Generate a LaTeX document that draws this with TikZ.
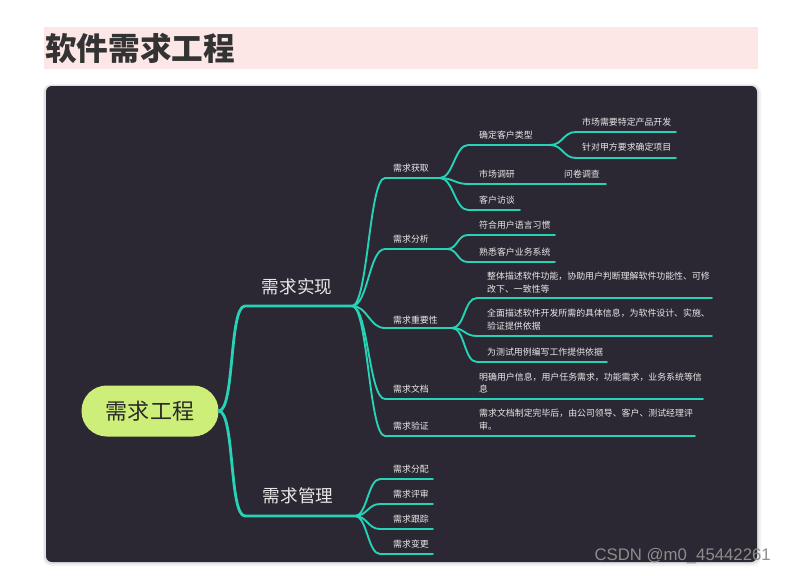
\documentclass[tikz,border=0pt]{standalone}
\usepackage{fontspec}
\newfontfamily\cjk{Noto Sans CJK SC}
\newfontfamily\wmfont{Liberation Sans}
\definecolor{titlebg}{HTML}{FDE7E6}
\definecolor{titletext}{HTML}{333333}
\definecolor{panelbg}{HTML}{2C2833}
\definecolor{mmline}{HTML}{27D3B7}
\definecolor{mmtext}{HTML}{E8E8E8}
\definecolor{rootbg}{HTML}{CDEF79}
\definecolor{roottext}{HTML}{2A2A2A}

\begin{document}
\begin{tikzpicture}
[
	x=0.03cm,y=-0.03cm,
	branch/.style={draw=mmline,line width=1.6pt,line cap=round},
	trunk/.style={draw=mmline,line width=2.4pt,line cap=round},
	mmcurve/.style={to path={.. controls +(#1,0) and +(-#1,0) .. (\tikztotarget)}},
	mmcurve/.default=15,
	topic/.style={anchor=west,inner sep=0pt,text=mmtext,align=left,
		font=\cjk\fontsize{7.6}{11}\selectfont},
	bigtopic/.style={inner sep=0pt,text=mmtext,font=\cjk\fontsize{15}{18}\selectfont}
]

	\useasboundingbox (0,0) rectangle (785,575);

	% title
	\fill[titlebg] (44,27) rectangle (758,69);
	\node[anchor=west,inner sep=0pt,text=titletext,
		font=\cjk\bfseries\fontsize{27}{30}\selectfont] (title) at (45,48) {软件需求工程};

	% panel with soft shadow
	\fill[black,opacity=0.05,rounded corners=7] (43,84) rectangle (761,566);
	\fill[black,opacity=0.07,rounded corners=6] (44,85) rectangle (759,564);
	\fill[panelbg,rounded corners=5] (46,86) rectangle (757,562);

	% root
	\node[fill=rootbg,rounded corners=0.76cm,minimum width=4.11cm,minimum height=1.53cm,
		inner sep=0pt,text=roottext,font=\cjk\fontsize{18.8}{22}\selectfont] (root) at (150,411) {需求工程};

	% level 1
	\coordinate (impl-s) at (245,306);
	\coordinate (impl-e) at (352,306);
	\coordinate (mgmt-s) at (245,516);
	\coordinate (mgmt-e) at (355,516);
	\node[bigtopic] (impl) at (297,287) {需求实现};
	\node[bigtopic] (mgmt) at (298,496) {需求管理};
	\draw[trunk] (root.east) to[mmcurve=16] (impl-s) -- (impl-e);
	\draw[trunk] (root.east) to[mmcurve=16] (mgmt-s) -- (mgmt-e);

	% level 2: 需求实现
	\coordinate (acq-s) at (385,178);  \coordinate (acq-e) at (440,178);
	\coordinate (ana-s) at (385,249);  \coordinate (ana-e) at (447,249);
	\coordinate (imp-s) at (385,328);  \coordinate (imp-e) at (452,328);
	\coordinate (doc-s) at (385,399);  \coordinate (doc-e) at (470,399);
	\coordinate (ver-s) at (385,436);  \coordinate (ver-e) at (470,436);
	\node[topic] (acq) at (393,168) {需求获取};
	\node[topic] (ana) at (393,239) {需求分析};
	\node[topic] (imp) at (393,320) {需求重要性};
	\node[topic] (doc) at (393,389) {需求文档};
	\node[topic] (ver) at (393,426) {需求验证};
	\foreach \k in {acq,ana,imp,doc,ver}
		\draw[branch] (impl-e) to[mmcurve=16] (\k-s) -- (\k-e);

	% level 2: 需求管理
	\coordinate (asg-s) at (380,479);  \coordinate (asg-e) at (433,479);
	\coordinate (rev-s) at (380,504);  \coordinate (rev-e) at (433,504);
	\coordinate (trk-s) at (380,529);  \coordinate (trk-e) at (433,529);
	\coordinate (chg-s) at (380,554);  \coordinate (chg-e) at (433,554);
	\node[topic] (asg) at (393,469) {需求分配};
	\node[topic] (rev) at (393,494) {需求评审};
	\node[topic] (trk) at (393,519) {需求跟踪};
	\node[topic] (chg) at (393,544) {需求变更};
	\foreach \k in {asg,rev,trk,chg}
		\draw[branch] (mgmt-e) to[mmcurve=12] (\k-s) -- (\k-e);

	% level 3: 需求获取
	\coordinate (type-s) at (468,145);  \coordinate (type-e) at (550,145);
	\coordinate (mkt-s) at (468,184);   \coordinate (mkt-e) at (545,184);
	\coordinate (intv-s) at (468,210);  \coordinate (intv-e) at (520,210);
	\node[topic] (type) at (479,135) {确定客户类型};
	\node[topic] (mkt) at (479,174) {市场调研};
	\node[topic] (intv) at (479,200) {客户访谈};
	\foreach \k in {type,mkt,intv}
		\draw[branch] (acq-e) to[mmcurve=13] (\k-s) -- (\k-e);

	\coordinate (quest-e) at (606,184);
	\node[topic] (quest) at (564,174) {问卷调查};
	\draw[branch] (mkt-e) -- (quest-e);

	\coordinate (prod-s) at (576,132);  \coordinate (prod-e) at (676,132);
	\coordinate (proj-s) at (576,158);  \coordinate (proj-e) at (676,158);
	\node[topic] (prod) at (582,122) {市场需要特定产品开发};
	\node[topic] (proj) at (582,147) {针对甲方要求确定项目};
	\foreach \k in {prod,proj}
		\draw[branch] (type-e) to[mmcurve=13] (\k-s) -- (\k-e);

	% level 3: 需求分析
	\coordinate (lang-s) at (468,235);  \coordinate (lang-e) at (555,235);
	\coordinate (biz-s) at (468,262);   \coordinate (biz-e) at (555,262);
	\node[topic] (lang) at (479,225) {符合用户语言习惯};
	\node[topic] (biz) at (479,252) {熟悉客户业务系统};
	\foreach \k in {lang,biz}
		\draw[branch] (ana-e) to[mmcurve=11] (\k-s) -- (\k-e);

	% level 3: 需求重要性
	\coordinate (whole-s) at (477,298);  \coordinate (whole-e) at (712,298);
	\coordinate (full-s) at (477,336);   \coordinate (full-e) at (712,336);
	\coordinate (test-s) at (477,362);   \coordinate (test-e) at (607,362);
	\node[topic] (whole) at (487,282.5) {整体描述软件功能，协助用户判断理解软件功能性、可修\\改下、一致性等};
	\node[topic] (full) at (487,319.5) {全面描述软件开发所需的具体信息，为软件设计、实施、\\验证提供依据};
	\node[topic] (test) at (487,352) {为测试用例编写工作提供依据};
	\foreach \k in {whole,full,test}
		\draw[branch] (imp-e) to[mmcurve=13] (\k-s) -- (\k-e);

	% level 3: 需求文档, 需求验证
	\coordinate (info-e) at (703,399);
	\coordinate (appr-e) at (695,436);
	\node[topic] (info) at (479,383) {明确用户信息，用户任务需求，功能需求，业务系统等信\\息};
	\node[topic] (appr) at (479,419.5) {需求文档制定完毕后，由公司领导、客户、测试经理评\\审。};
	\draw[branch] (doc-e) -- (info-e);
	\draw[branch] (ver-e) -- (appr-e);

	% watermark
	\node[anchor=east,inner sep=0pt,text=black!45,font=\wmfont\fontsize{14.3}{16}\selectfont] (wm) at (771,556) {CSDN @m0\_45442261};

\end{tikzpicture}
\end{document}
